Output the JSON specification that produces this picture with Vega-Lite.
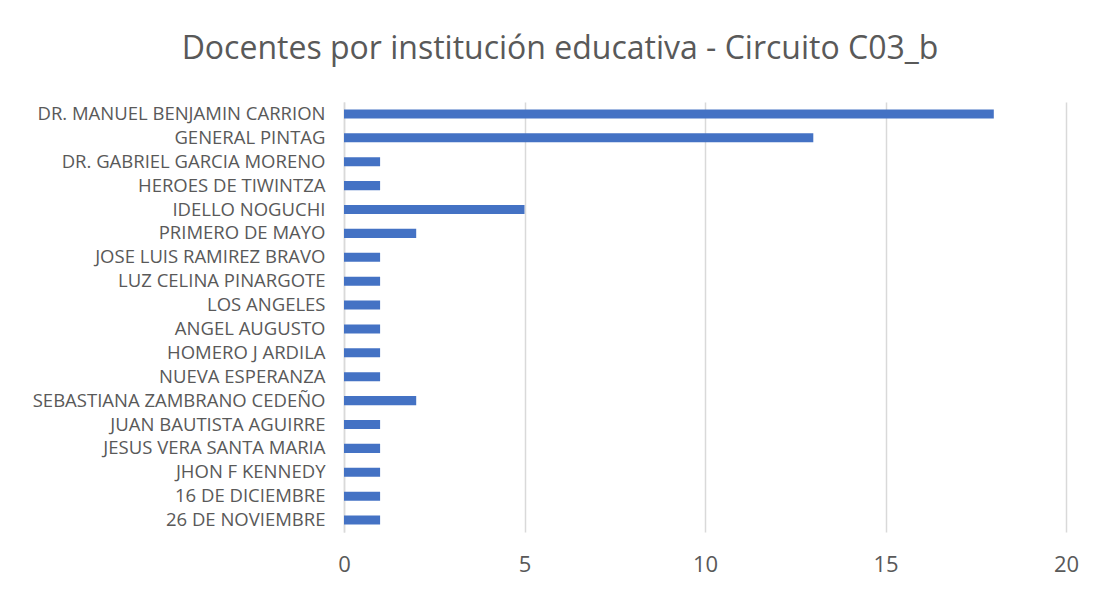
{
  "$schema": "https://vega.github.io/schema/vega-lite/v6.json",
  "width": 722,
  "height": 430,
  "autosize": {"type": "none"},
  "padding": {"left": 344, "top": 102, "right": 38, "bottom": 57},
  "background": "white",
  "title": {
    "text": "Docentes por institución educativa - Circuito C03_b",
    "font": "Open Sans",
    "fontSize": 32,
    "fontWeight": "normal",
    "color": "#595959",
    "anchor": "middle",
    "dx": -145,
    "offset": 36
  },
  "data": {
    "values": [
      {"institucion": "DR. MANUEL BENJAMIN CARRION", "docentes": 18},
      {"institucion": "GENERAL PINTAG", "docentes": 13},
      {"institucion": "DR. GABRIEL GARCIA MORENO", "docentes": 1},
      {"institucion": "HEROES DE TIWINTZA", "docentes": 1},
      {"institucion": "IDELLO NOGUCHI", "docentes": 5},
      {"institucion": "PRIMERO DE MAYO", "docentes": 2},
      {"institucion": "JOSE LUIS RAMIREZ BRAVO", "docentes": 1},
      {"institucion": "LUZ CELINA PINARGOTE", "docentes": 1},
      {"institucion": "LOS ANGELES", "docentes": 1},
      {"institucion": "ANGEL AUGUSTO", "docentes": 1},
      {"institucion": "HOMERO J ARDILA", "docentes": 1},
      {"institucion": "NUEVA ESPERANZA", "docentes": 1},
      {"institucion": "SEBASTIANA ZAMBRANO CEDEÑO", "docentes": 2},
      {"institucion": "JUAN BAUTISTA AGUIRRE", "docentes": 1},
      {"institucion": "JESUS VERA SANTA MARIA", "docentes": 1},
      {"institucion": "JHON F KENNEDY", "docentes": 1},
      {"institucion": "16 DE DICIEMBRE", "docentes": 1},
      {"institucion": "26 DE NOVIEMBRE", "docentes": 1}
    ]
  },
  "mark": {"type": "bar", "color": "#4472C4"},
  "encoding": {
    "y": {
      "field": "institucion",
      "type": "nominal",
      "sort": null,
      "scale": {"paddingInner": 0.62, "paddingOuter": 0.31},
      "axis": {
        "title": null,
        "domain": true,
        "domainColor": "#d9d9d9",
        "domainWidth": 1.5,
        "ticks": false,
        "labelFont": "Open Sans",
        "labelFontSize": 18.5,
        "labelColor": "#595959",
        "labelPadding": 19,
        "labelLimit": 400
      }
    },
    "x": {
      "field": "docentes",
      "type": "quantitative",
      "scale": {"domain": [0, 20]},
      "axis": {
        "title": null,
        "values": [0, 5, 10, 15, 20],
        "domain": false,
        "ticks": false,
        "grid": true,
        "gridColor": "#d9d9d9",
        "gridWidth": 1.5,
        "labelFlush": false,
        "labelFont": "Open Sans",
        "labelFontSize": 22,
        "labelColor": "#595959",
        "labelPadding": 22
      }
    }
  },
  "config": {"view": {"stroke": null}}
}
